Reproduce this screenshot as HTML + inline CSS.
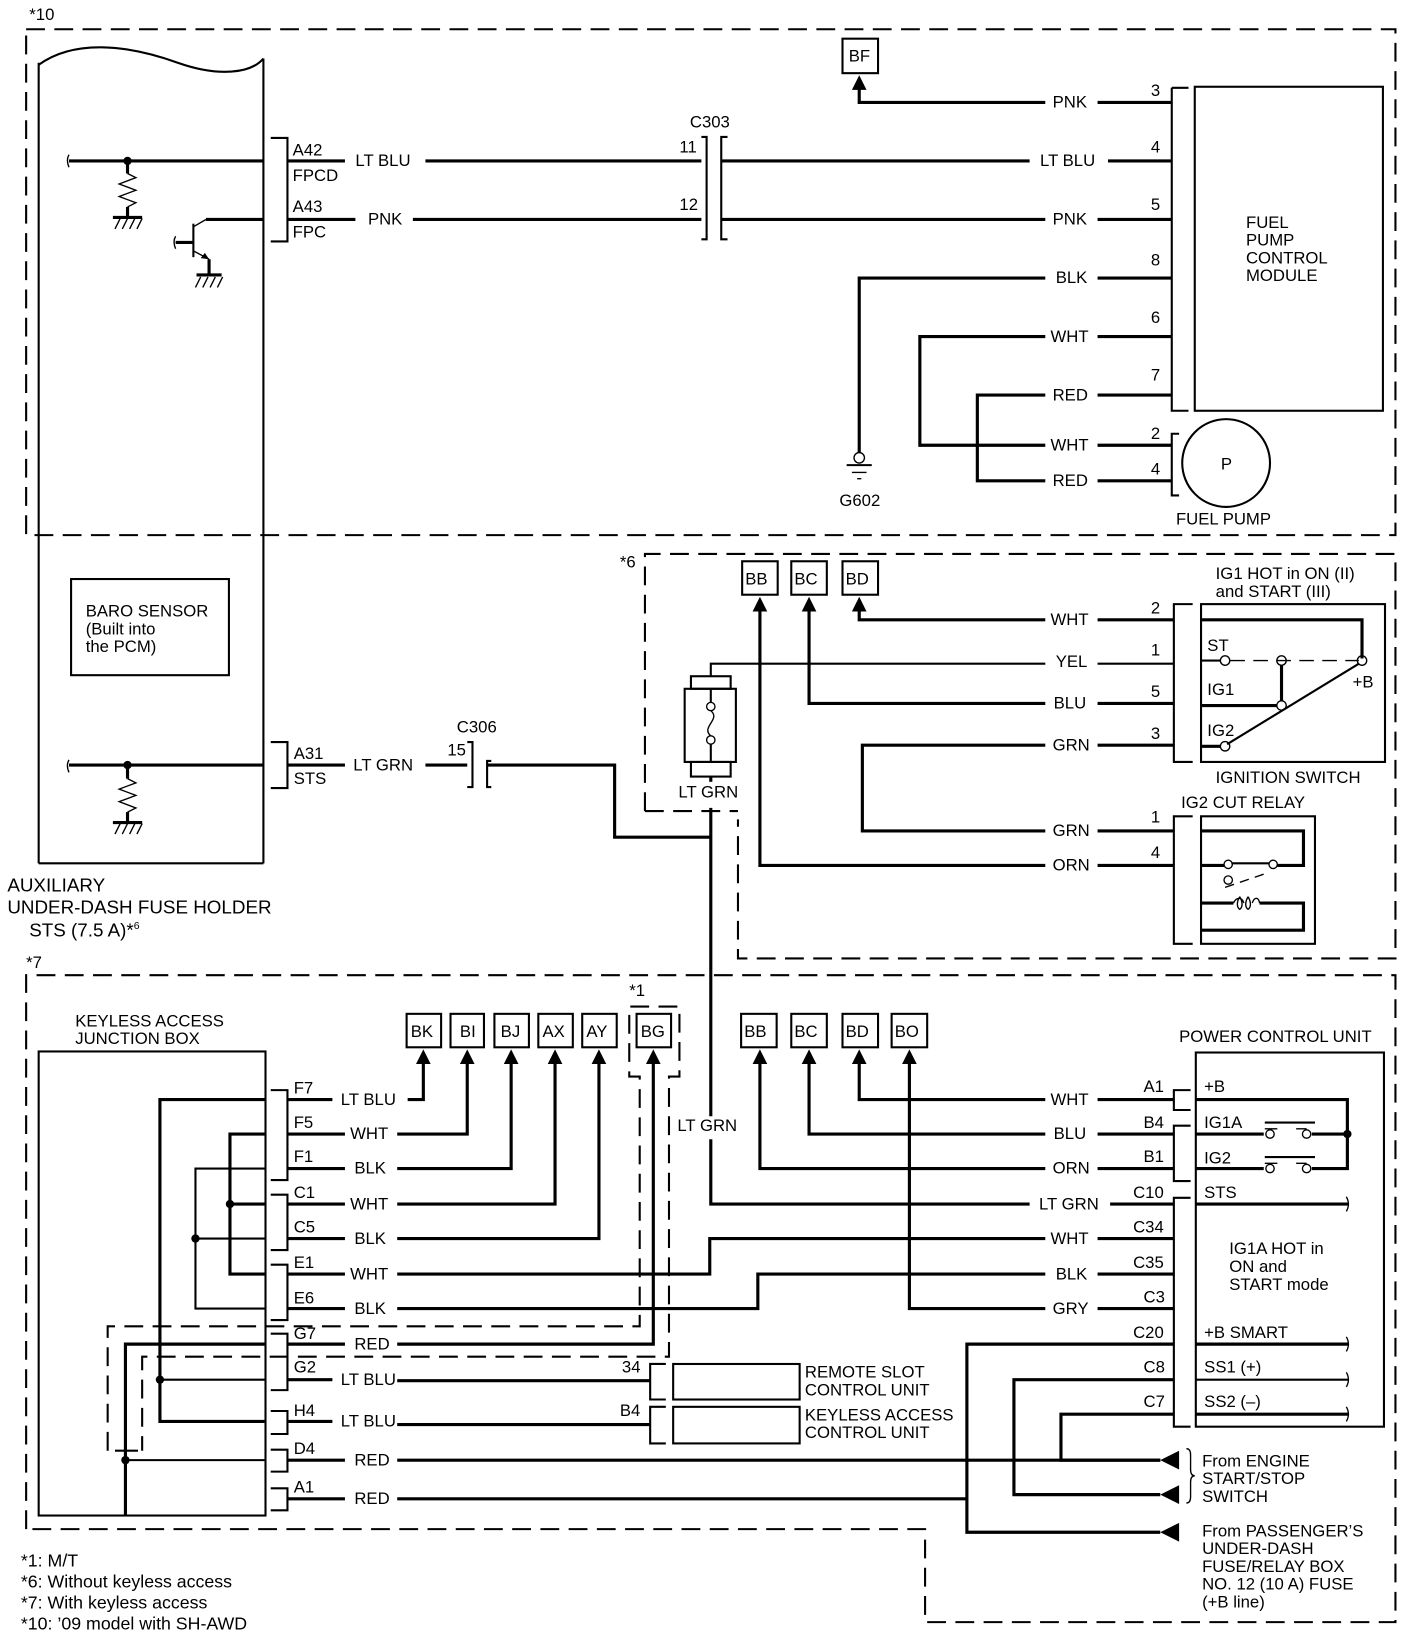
<!DOCTYPE html>
<html><head><meta charset="utf-8"><style>
html,body{margin:0;padding:0;background:#fff;}
svg{display:block;}
text{font-family:"Liberation Sans",Arial,sans-serif;font-size:16px;fill:#000;}
.w{stroke:#000;stroke-width:3;fill:none;}
.t{stroke:#000;stroke-width:2;fill:none;}
.n{stroke:#000;stroke-width:1.3;fill:none;}
.d{stroke:#000;stroke-width:2;fill:none;stroke-dasharray:18,9;}
</style></head><body>
<svg width="1408" height="1642" viewBox="0 0 1347 1571" preserveAspectRatio="none" xmlns="http://www.w3.org/2000/svg">
<defs>
<g id="au"><polygon points="0,0 -7,14 7,14" fill="#000"/></g>
<g id="al"><polygon points="0,0 18,-9 18,9" fill="#000"/></g>
</defs>

<!-- *10 box -->
<text x="28" y="19">*10</text>
<rect x="25" y="28" width="1310" height="484" class="d"/>

<!-- PCM block -->
<path d="M37,62 C70,38 120,42 170,60 C210,74 240,70 252,56" class="t"/>
<line x1="37" y1="60" x2="37" y2="826" class="t"/>
<line x1="252" y1="56" x2="252" y2="826" class="t"/>
<line x1="37" y1="826" x2="252" y2="826" class="t"/>

<!-- A42 line -->
<path d="M66,148 q-3,5 0,12" class="n"/>
<line x1="66" y1="154" x2="252" y2="154" class="w"/>
<circle cx="122" cy="154" r="4" fill="#000"/>
<line x1="122" y1="154" x2="122" y2="166" class="w"/>
<path d="M122,166 l8,4 l-16,6 l16,6 l-16,6 l16,6 l-8,4" class="n"/>
<line x1="122" y1="198" x2="122" y2="207" class="w"/>
<line x1="108" y1="208" x2="136" y2="208" class="w"/>
<path d="M110,219 l5,-10 M117,219 l5,-10 M124,219 l5,-10 M131,219 l5,-10" class="n"/>
<!-- transistor -->
<line x1="197" y1="210" x2="252" y2="210" class="w"/>
<line x1="197" y1="210" x2="185" y2="217" class="n"/>
<line x1="185" y1="214" x2="185" y2="246" class="t"/>
<line x1="168" y1="232" x2="185" y2="232" class="w"/>
<path d="M168,226 q-3,5 0,12" class="n"/>
<line x1="185" y1="240" x2="200" y2="248" class="n"/>
<polygon points="200,248 192,247 196,242" fill="#000"/>
<line x1="200" y1="248" x2="200" y2="262" class="w"/>
<line x1="188" y1="263" x2="212" y2="263" class="w"/>
<path d="M187,275 l5,-10 M194,275 l5,-10 M201,275 l5,-10 M208,275 l5,-10" class="n"/>

<!-- connector A42/A43 -->
<path d="M259,132 H275 V231 H259" class="t"/>
<text x="280" y="149">A42</text><text x="280" y="173">FPCD</text>
<text x="280" y="203">A43</text><text x="280" y="227">FPC</text>
<line x1="275" y1="154" x2="330" y2="154" class="w"/>
<text x="340" y="159">LT BLU</text>
<line x1="407" y1="154" x2="671" y2="154" class="w"/>
<line x1="275" y1="210" x2="340" y2="210" class="w"/>
<text x="352" y="215">PNK</text>
<line x1="395" y1="210" x2="671" y2="210" class="w"/>
<!-- C303 -->
<text x="660" y="122">C303</text>
<text x="650" y="146">11</text><text x="650" y="201">12</text>
<path d="M671,131 H676 V229 H671" class="t"/>
<path d="M696,131 H690 V229 H696" class="t"/>
<line x1="690" y1="154" x2="985" y2="154" class="w"/>
<line x1="690" y1="210" x2="1000" y2="210" class="w"/>

<!-- BF -->
<rect x="806" y="37" width="34" height="33" class="t"/><text x="812" y="59">BF</text>
<use href="#au" x="822" y="72"/>
<path d="M822,85 V98 H1000" class="w"/>

<!-- FPCM wires -->
<text x="1007" y="103">PNK</text><line x1="1050" y1="98" x2="1121" y2="98" class="w"/><text x="1101" y="92">3</text>
<text x="995" y="159">LT BLU</text><line x1="1060" y1="154" x2="1121" y2="154" class="w"/><text x="1101" y="146">4</text>
<text x="1007" y="215">PNK</text><line x1="1050" y1="210" x2="1121" y2="210" class="w"/><text x="1101" y="201">5</text>
<text x="1010" y="271">BLK</text><line x1="1050" y1="266" x2="1121" y2="266" class="w"/><text x="1101" y="254">8</text>
<text x="1005" y="327">WHT</text><line x1="1050" y1="322" x2="1121" y2="322" class="w"/><text x="1101" y="309">6</text>
<text x="1007" y="383">RED</text><line x1="1050" y1="378" x2="1121" y2="378" class="w"/><text x="1101" y="364">7</text>
<text x="1005" y="431">WHT</text><line x1="1050" y1="426" x2="1121" y2="426" class="w"/><text x="1101" y="420">2</text>
<text x="1007" y="465">RED</text><line x1="1050" y1="460" x2="1121" y2="460" class="w"/><text x="1101" y="454">4</text>
<path d="M1000,266 H822 V433" class="w"/>
<circle cx="822" cy="438" r="5" fill="#fff" class="n"/>
<line x1="810" y1="445" x2="834" y2="445" class="t"/><line x1="815" y1="452" x2="829" y2="452" class="n"/><line x1="820" y1="458" x2="824" y2="458" class="n"/>
<text x="803" y="484">G602</text>
<path d="M1000,322 H880 V426 H1000" class="w"/>
<path d="M1000,378 H935 V460 H1000" class="w"/>
<!-- FPCM -->
<path d="M1121,84 V393 H1137" class="t"/><path d="M1121,84 H1137" class="t"/>
<rect x="1143" y="83" width="180" height="310" class="t"/>
<text x="1192" y="218">FUEL</text><text x="1192" y="235">PUMP</text><text x="1192" y="252">CONTROL</text><text x="1192" y="269">MODULE</text>
<!-- fuel pump -->
<path d="M1128,415 H1121 V474 H1128" class="t"/>
<circle cx="1173" cy="443" r="42" class="t"/>
<text x="1168" y="449">P</text>
<text x="1125" y="502">FUEL PUMP</text>

<!-- BARO -->
<rect x="68" y="554" width="151" height="92" class="t"/>
<text x="82" y="590">BARO SENSOR</text><text x="82" y="607">(Built into</text><text x="82" y="624">the PCM)</text>

<!-- A31 -->
<path d="M66,727 q-3,5 0,12" class="n"/>
<line x1="66" y1="732" x2="252" y2="732" class="w"/>
<circle cx="122" cy="732" r="4" fill="#000"/>
<line x1="122" y1="732" x2="122" y2="745" class="w"/>
<path d="M122,745 l8,4 l-16,6 l16,6 l-16,6 l16,6 l-8,4" class="n"/>
<line x1="122" y1="777" x2="122" y2="786" class="w"/>
<line x1="108" y1="787" x2="136" y2="787" class="w"/>
<path d="M110,798 l5,-10 M117,798 l5,-10 M124,798 l5,-10 M131,798 l5,-10" class="n"/>
<path d="M259,710 H275 V754 H259" class="t"/>
<text x="281" y="726">A31</text><text x="281" y="750">STS</text>
<line x1="275" y1="732" x2="330" y2="732" class="w"/>
<text x="338" y="737">LT GRN</text>
<line x1="407" y1="732" x2="447" y2="732" class="w"/>
<text x="437" y="701">C306</text><text x="428" y="723">15</text>
<path d="M447,710 H452 V753 H447" class="t"/>
<path d="M470,728 H466 V753 H470" class="t"/>
<path d="M466,732 H588 V801 H680" class="w"/>

<text x="7" y="853" style="font-size:18px">AUXILIARY</text>
<text x="7" y="874" style="font-size:18px">UNDER-DASH FUSE HOLDER</text>
<text x="28" y="896" style="font-size:18px">STS (7.5 A)*<tspan style="font-size:10px" dy="-7">6</tspan></text>

<!-- *6 box -->
<text x="593" y="543">*6</text>
<path d="M617,776 V530 H1335 V917 H706 V784 M617,776 H706" class="d"/>
<!-- BB BC BD -->
<rect x="710" y="537" width="34" height="32" class="t"/><text x="713" y="559">BB</text>
<rect x="757" y="537" width="34" height="32" class="t"/><text x="760" y="559">BC</text>
<rect x="806" y="537" width="34" height="32" class="t"/><text x="809" y="559">BD</text>
<use href="#au" x="727" y="571"/><use href="#au" x="774" y="571"/><use href="#au" x="822" y="571"/>
<path d="M727,584 V828 H1000" class="w"/>
<path d="M774,584 V673 H1000" class="w"/>
<path d="M822,584 V593 H1000" class="w"/>
<!-- fuse -->
<path d="M680,647 V635 H1000" class="t"/>
<rect x="661" y="647" width="38" height="12" class="t"/>
<rect x="655" y="659" width="49" height="70" class="t"/>
<rect x="661" y="729" width="38" height="14" class="t"/>
<line x1="680" y1="659" x2="680" y2="672" class="t"/><line x1="680" y1="712" x2="680" y2="729" class="t"/>
<circle cx="680" cy="676" r="4" fill="#fff" class="n"/><circle cx="680" cy="708" r="4" fill="#fff" class="n"/>
<path d="M680,680 C690,688 670,696 680,704" class="n"/>
<line x1="680" y1="743" x2="680" y2="748" class="w"/>
<text x="649" y="763">LT GRN</text>
<line x1="680" y1="773" x2="680" y2="1068" class="w"/>
<text x="648" y="1082">LT GRN</text>
<path d="M680,1090 V1152 H985" class="w"/>

<!-- ignition wires -->
<text x="1005" y="598">WHT</text><line x1="1050" y1="593" x2="1123" y2="593" class="w"/><text x="1101" y="587">2</text>
<text x="1010" y="638">YEL</text><line x1="1050" y1="635" x2="1123" y2="635" class="t"/><text x="1101" y="627">1</text>
<text x="1008" y="678">BLU</text><line x1="1050" y1="673" x2="1123" y2="673" class="w"/><text x="1101" y="667">5</text>
<text x="1007" y="718">GRN</text><line x1="1050" y1="713" x2="1123" y2="713" class="w"/><text x="1101" y="707">3</text>
<path d="M1000,713 H825 V795 H1000" class="w"/>
<text x="1007" y="800">GRN</text><line x1="1050" y1="795" x2="1123" y2="795" class="w"/><text x="1101" y="787">1</text>
<text x="1007" y="833">ORN</text><line x1="1050" y1="828" x2="1123" y2="828" class="w"/><text x="1101" y="821">4</text>
<!-- ignition switch -->
<text x="1163" y="554">IG1 HOT in ON (II)</text><text x="1163" y="571">and START (III)</text>
<path d="M1141,578 H1123 V729 H1141" class="t"/>
<rect x="1149" y="578" width="176" height="151" class="t"/>
<path d="M1149,593 H1303 V630" class="w"/>
<line x1="1149" y1="632" x2="1168" y2="632" class="t"/>
<line x1="1177" y1="632" x2="1300" y2="632" class="n" stroke-dasharray="14,8"/>
<circle cx="1172" cy="632" r="4.5" fill="#fff" class="n"/>
<line x1="1226" y1="636" x2="1226" y2="671" class="w"/>
<circle cx="1226" cy="632" r="4.5" fill="#fff" class="n"/>
<circle cx="1303" cy="632" r="4.5" fill="#fff" class="n"/>
<line x1="1149" y1="675" x2="1222" y2="675" class="w"/>
<circle cx="1226" cy="675" r="4.5" fill="#fff" class="n"/>
<line x1="1149" y1="714" x2="1168" y2="714" class="w"/>
<line x1="1174" y1="712" x2="1300" y2="635" class="t"/>
<circle cx="1172" cy="714" r="4.5" fill="#fff" class="n"/>
<text x="1155" y="623">ST</text><text x="1155" y="665">IG1</text><text x="1155" y="704">IG2</text><text x="1294" y="658">+B</text>
<text x="1163" y="749">IGNITION SWITCH</text>
<!-- relay -->
<text x="1130" y="773">IG2 CUT RELAY</text>
<path d="M1141,781 H1123 V903 H1141" class="t"/>
<rect x="1149" y="781" width="109" height="122" class="t"/>
<path d="M1149,795 H1247 V828 H1222" class="w"/>
<line x1="1149" y1="828" x2="1171" y2="828" class="w"/>
<line x1="1178" y1="826" x2="1214" y2="826" class="t"/>
<circle cx="1175" cy="827" r="4" fill="#fff" class="n"/><circle cx="1218" cy="827" r="4" fill="#fff" class="n"/>
<circle cx="1175" cy="842" r="4" fill="#fff" class="n"/>
<line x1="1172" y1="849" x2="1213" y2="835" class="n" stroke-dasharray="9,6"/>
<path d="M1149,864 H1180 M1205,864 H1247 V890 H1149" class="w"/>
<path d="M1180,864 c3,-6 8,-6 10,0 M1186,858 c-3,5 -3,10 0,12 c3,-2 3,-7 0,-12 M1194,858 c-3,5 -3,10 0,12 c3,-2 3,-7 0,-12 M1198,864 c2,-6 6,-6 7,0" class="n"/>

<!-- *7 box -->
<text x="25" y="926">*7</text>
<path d="M25,1463 V933 H1335 V1552 H885 V1463 H25" class="d"/>

<!-- keyless junction box -->
<text x="72" y="982">KEYLESS ACCESS</text><text x="72" y="999">JUNCTION BOX</text>
<rect x="37" y="1006" width="217" height="444" class="t"/>
<path d="M254,1052 H153 V1360 H254" class="w"/>
<circle cx="153" cy="1320" r="4" fill="#000"/><line x1="153" y1="1320" x2="254" y2="1320" class="t"/>
<path d="M254,1085 H220 V1219 H254" class="w"/>
<circle cx="220" cy="1152" r="4" fill="#000"/><line x1="220" y1="1152" x2="254" y2="1152" class="w"/>
<path d="M254,1118 H187 V1252 H254" class="t"/>
<circle cx="187" cy="1185" r="4" fill="#000"/><line x1="187" y1="1185" x2="254" y2="1185" class="t"/>
<path d="M254,1286 H120 V1450" class="w"/>
<circle cx="120" cy="1397" r="4" fill="#000"/><line x1="120" y1="1397" x2="254" y2="1397" class="t"/>
<line x1="110" y1="1388" x2="132" y2="1388" class="t"/>
<!-- *1 dashed -->
<text x="602" y="953">*1</text>
<path d="M103,1388 V1269 H612 V1030 H602 V963 H650 V1030 H640 V1298 H136 V1388" class="d" stroke-dasharray="16,8"/>

<!-- pin brackets -->
<path d="M259,1043 H275 V1129 H259" class="t"/>
<path d="M259,1143 H275 V1196 H259" class="t"/>
<path d="M259,1210 H275 V1263 H259" class="t"/>
<path d="M259,1276 H275 V1330 H259" class="t"/>
<path d="M259,1350 H275 V1372 H259" class="t"/>
<path d="M259,1387 H275 V1408 H259" class="t"/>
<path d="M259,1424 H275 V1445 H259" class="t"/>
<text x="281" y="1046">F7</text><text x="281" y="1079">F5</text><text x="281" y="1112">F1</text>
<text x="281" y="1146">C1</text><text x="281" y="1179">C5</text><text x="281" y="1213">E1</text>
<text x="281" y="1247">E6</text><text x="281" y="1281">G7</text><text x="281" y="1313">G2</text>
<text x="281" y="1355">H4</text><text x="281" y="1391">D4</text><text x="281" y="1428">A1</text>
<!-- wires out -->
<line x1="275" y1="1052" x2="318" y2="1052" class="w"/><text x="326" y="1057">LT BLU</text>
<line x1="275" y1="1085" x2="330" y2="1085" class="w"/><text x="335" y="1090">WHT</text>
<line x1="275" y1="1118" x2="330" y2="1118" class="w"/><text x="339" y="1123">BLK</text>
<line x1="275" y1="1152" x2="330" y2="1152" class="w"/><text x="335" y="1157">WHT</text>
<line x1="275" y1="1185" x2="330" y2="1185" class="w"/><text x="339" y="1190">BLK</text>
<line x1="275" y1="1219" x2="330" y2="1219" class="w"/><text x="335" y="1224">WHT</text>
<line x1="275" y1="1252" x2="330" y2="1252" class="w"/><text x="339" y="1257">BLK</text>
<line x1="275" y1="1286" x2="330" y2="1286" class="w"/><text x="339" y="1291">RED</text>
<line x1="275" y1="1320" x2="318" y2="1320" class="w"/><text x="326" y="1325">LT BLU</text>
<line x1="275" y1="1360" x2="318" y2="1360" class="w"/><text x="326" y="1365">LT BLU</text>
<line x1="275" y1="1397" x2="330" y2="1397" class="w"/><text x="339" y="1402">RED</text>
<line x1="275" y1="1434" x2="330" y2="1434" class="w"/><text x="339" y="1439">RED</text>

<!-- top boxes -->
<g>
<rect x="389" y="970" width="33" height="32" class="t"/><text x="393" y="992">BK</text>
<rect x="431" y="970" width="32" height="32" class="t"/><text x="440" y="992">BI</text>
<rect x="473" y="970" width="33" height="32" class="t"/><text x="479" y="992">BJ</text>
<rect x="515" y="970" width="33" height="32" class="t"/><text x="519" y="992">AX</text>
<rect x="557" y="970" width="33" height="32" class="t"/><text x="561" y="992">AY</text>
<rect x="609" y="970" width="33" height="32" class="t"/><text x="613" y="992">BG</text>
<rect x="709" y="970" width="34" height="32" class="t"/><text x="712" y="992">BB</text>
<rect x="757" y="970" width="34" height="32" class="t"/><text x="760" y="992">BC</text>
<rect x="806" y="970" width="34" height="32" class="t"/><text x="809" y="992">BD</text>
<rect x="853" y="970" width="34" height="32" class="t"/><text x="856" y="992">BO</text>
</g>
<use href="#au" x="405" y="1004"/><use href="#au" x="447" y="1004"/><use href="#au" x="489" y="1004"/>
<use href="#au" x="531" y="1004"/><use href="#au" x="573" y="1004"/><use href="#au" x="625" y="1004"/>
<use href="#au" x="727" y="1004"/><use href="#au" x="774" y="1004"/><use href="#au" x="822" y="1004"/><use href="#au" x="870" y="1004"/>
<path d="M390,1052 H405 V1017" class="w"/>
<path d="M380,1085 H447 V1017" class="w"/>
<path d="M380,1118 H489 V1017" class="w"/>
<path d="M380,1152 H531 V1017" class="w"/>
<path d="M380,1185 H573 V1017" class="w"/>
<path d="M380,1286 H625 V1017" class="w"/>
<path d="M380,1219 H679 V1185 H1000" class="w"/>
<path d="M380,1252 H725 V1219 H1000" class="w"/>
<path d="M822,1017 V1052 H1000" class="w"/>
<path d="M774,1017 V1085 H1000" class="w"/>
<path d="M727,1017 V1118 H1000" class="w"/>
<path d="M870,1017 V1252 H1000" class="w"/>

<!-- remote slot / keyless units -->
<line x1="380" y1="1321" x2="622" y2="1321" class="w"/>
<line x1="380" y1="1363" x2="622" y2="1363" class="w"/>
<text x="595" y="1313">34</text><text x="593" y="1355">B4</text>
<path d="M637,1305 H622 V1339 H637" class="t"/><rect x="644" y="1305" width="121" height="34" class="t"/>
<path d="M637,1346 H622 V1381 H637" class="t"/><rect x="644" y="1346" width="121" height="35" class="t"/>
<text x="770" y="1318">REMOTE SLOT</text><text x="770" y="1335">CONTROL UNIT</text>
<text x="770" y="1359">KEYLESS ACCESS</text><text x="770" y="1376">CONTROL UNIT</text>

<!-- PCU wire labels -->
<text x="1005" y="1057">WHT</text><line x1="1050" y1="1052" x2="1123" y2="1052" class="w"/><text x="1094" y="1045">A1</text>
<text x="1008" y="1090">BLU</text><line x1="1050" y1="1085" x2="1123" y2="1085" class="w"/><text x="1094" y="1079">B4</text>
<text x="1007" y="1123">ORN</text><line x1="1050" y1="1118" x2="1123" y2="1118" class="w"/><text x="1094" y="1112">B1</text>
<text x="994" y="1157">LT GRN</text><line x1="1062" y1="1152" x2="1123" y2="1152" class="w"/><text x="1084" y="1146">C10</text>
<text x="1005" y="1190">WHT</text><line x1="1050" y1="1185" x2="1123" y2="1185" class="w"/><text x="1084" y="1179">C34</text>
<text x="1010" y="1224">BLK</text><line x1="1050" y1="1219" x2="1123" y2="1219" class="w"/><text x="1084" y="1213">C35</text>
<text x="1007" y="1257">GRY</text><line x1="1050" y1="1252" x2="1123" y2="1252" class="w"/><text x="1094" y="1246">C3</text>
<text x="1084" y="1280">C20</text><text x="1094" y="1313">C8</text><text x="1094" y="1346">C7</text>
<path d="M1123,1286 H925 V1466 H1110" class="w"/>
<line x1="380" y1="1434" x2="925" y2="1434" class="w"/>
<path d="M1123,1320 H970 V1430 H1110" class="w"/>
<path d="M1123,1353 H1015 V1397 H1110" class="w"/>
<line x1="380" y1="1397" x2="1110" y2="1397" class="w"/>
<use href="#al" x="1110" y="1397"/><use href="#al" x="1110" y="1430"/><use href="#al" x="1110" y="1466"/>
<path d="M1135,1386 q4,0 4,6 v14 q0,6 4,6 q-4,0 -4,6 v14 q0,6 -4,6" class="n"/>
<text x="1150" y="1403">From ENGINE</text><text x="1150" y="1420">START/STOP</text><text x="1150" y="1437">SWITCH</text>
<text x="1150" y="1470">From PASSENGER’S</text><text x="1150" y="1487">UNDER-DASH</text><text x="1150" y="1504">FUSE/RELAY BOX</text><text x="1150" y="1521">NO. 12 (10 A) FUSE</text><text x="1150" y="1538">(+B line)</text>

<!-- PCU -->
<text x="1128" y="997">POWER CONTROL UNIT</text>
<path d="M1139,1043 H1123 V1062 H1139" class="t"/>
<path d="M1139,1077 H1123 V1130 H1139" class="t"/>
<path d="M1139,1146 H1123 V1365 H1139" class="t"/>
<rect x="1144" y="1007" width="180" height="358" class="t"/>
<text x="1152" y="1045">+B</text><text x="1152" y="1079">IG1A</text><text x="1152" y="1113">IG2</text><text x="1152" y="1146">STS</text>
<path d="M1144,1052 H1289 V1118 H1255" class="w"/>
<line x1="1144" y1="1085" x2="1209" y2="1085" class="w"/><line x1="1255" y1="1085" x2="1289" y2="1085" class="w"/>
<line x1="1144" y1="1118" x2="1209" y2="1118" class="w"/>
<circle cx="1289" cy="1085" r="4" fill="#000"/>
<line x1="1210" y1="1074" x2="1258" y2="1074" class="t"/><line x1="1210" y1="1107" x2="1258" y2="1107" class="t"/>
<path d="M1210,1080 H1222 M1240,1080 H1250 M1210,1113 H1222 M1240,1113 H1250" class="n"/>
<circle cx="1215" cy="1085" r="4" fill="#fff" class="n"/><circle cx="1250" cy="1085" r="4" fill="#fff" class="n"/>
<circle cx="1215" cy="1118" r="4" fill="#fff" class="n"/><circle cx="1250" cy="1118" r="4" fill="#fff" class="n"/>
<line x1="1144" y1="1152" x2="1290" y2="1152" class="w"/>
<text x="1176" y="1200">IG1A HOT in</text><text x="1176" y="1217">ON and</text><text x="1176" y="1234">START mode</text>
<text x="1152" y="1280">+B SMART</text><line x1="1144" y1="1286" x2="1290" y2="1286" class="w"/>
<text x="1152" y="1313">SS1 (+)</text><line x1="1144" y1="1320" x2="1290" y2="1320" class="t"/>
<text x="1152" y="1346">SS2 (–)</text><line x1="1144" y1="1353" x2="1290" y2="1353" class="w"/>
<path d="M1288,1145 q4,7 0,14 M1288,1279 q4,7 0,14 M1288,1313 q4,7 0,14 M1288,1346 q4,7 0,14" class="n"/>

<!-- footnotes -->
<text x="20" y="1499" style="font-size:17px">*1: M/T</text>
<text x="20" y="1519" style="font-size:17px">*6: Without keyless access</text>
<text x="20" y="1539" style="font-size:17px">*7: With keyless access</text>
<text x="20" y="1559" style="font-size:17px">*10: ’09 model with SH-AWD</text>
</svg>
</body></html>
